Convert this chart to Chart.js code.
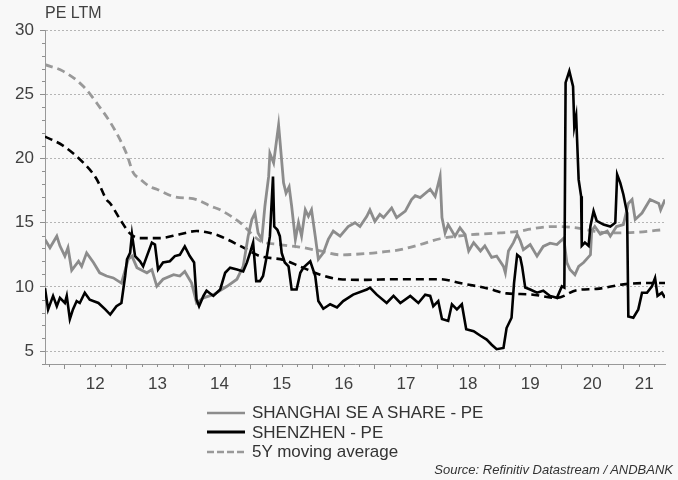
<!DOCTYPE html>
<html><head><meta charset="utf-8">
<script src="https://cdn.jsdelivr.net/npm/chart.js@4.4.0/dist/chart.umd.min.js"></script>
<style>
html,body{margin:0;padding:0;background:#f8f8f8;}
#wrap{position:relative;width:678px;height:480px;font-family:"Liberation Sans",Arial,sans-serif;color:#404040;overflow:hidden;}
#c{position:absolute;left:0;top:0;}
#title{position:absolute;left:45px;top:3px;font-size:16px;line-height:20px;white-space:nowrap;}
#legend{position:absolute;left:207px;top:403px;font-size:17px;color:#333;}
.row{height:19.5px;line-height:19.5px;display:flex;align-items:center;white-space:nowrap;}
.row svg{margin-right:7px;flex:none;}
#source{position:absolute;right:5px;top:462px;font-size:13px;line-height:16px;font-style:italic;color:#333;white-space:nowrap;}
</style></head>
<body>
<div id="wrap">
<canvas id="c" width="678" height="480"></canvas>
<div id="title">PE LTM</div>
<div id="legend">
 <div class="row"><svg width="38" height="12"><line x1="0" y1="6" x2="38" y2="6" stroke="#8c8c8c" stroke-width="2.5"/></svg>SHANGHAI SE A SHARE - PE</div>
 <div class="row"><svg width="38" height="12"><line x1="0" y1="6" x2="38" y2="6" stroke="#000" stroke-width="2.8"/></svg>SHENZHEN - PE</div>
 <div class="row"><svg width="38" height="12"><line x1="0" y1="6" x2="38" y2="6" stroke="#999" stroke-width="2.5" stroke-dasharray="7,3"/></svg>5Y moving average</div>
</div>
<div id="source">Source: Refinitiv Datastream / ANDBANK</div>
</div>
<script>
// ---- data (decimal years, PE values) ----
const shDates = [2011.69,2011.77,2011.88,2011.93,2012.01,2012.06,2012.12,2012.23,2012.28,2012.36,2012.47,2012.57,2012.68,2012.79,2012.92,2013.03,2013.09,2013.17,2013.33,2013.41,2013.49,2013.59,2013.76,2013.86,2013.94,2014.05,2014.13,2014.24,2014.40,2014.62,2014.78,2014.88,2014.96,2015.02,2015.07,2015.12,2015.18,2015.23,2015.29,2015.31,2015.37,2015.42,2015.45,2015.47,2015.53,2015.57,2015.62,2015.66,2015.72,2015.77,2015.82,2015.88,2015.93,2015.98,2016.04,2016.09,2016.17,2016.25,2016.33,2016.44,2016.57,2016.68,2016.76,2016.87,2016.92,2017.00,2017.08,2017.14,2017.27,2017.35,2017.49,2017.59,2017.65,2017.73,2017.89,2017.97,2018.05,2018.08,2018.13,2018.18,2018.29,2018.37,2018.45,2018.51,2018.59,2018.70,2018.77,2018.88,2018.96,2019.07,2019.10,2019.15,2019.23,2019.29,2019.34,2019.39,2019.50,2019.61,2019.71,2019.82,2019.93,2020.04,2020.09,2020.14,2020.22,2020.28,2020.36,2020.47,2020.49,2020.54,2020.63,2020.74,2020.79,2020.89,2021.00,2021.08,2021.14,2021.19,2021.30,2021.43,2021.57,2021.60,2021.67];
const shValues = [13.7,13.05,13.95,13.2,12.4,13.05,11.3,12.0,11.6,12.65,11.9,11.1,10.85,10.7,10.3,12.15,12.4,11.5,11.1,11.35,10.05,10.6,10.95,10.85,11.2,10.3,8.75,9.15,9.4,10.05,10.6,11.6,13.95,15.25,15.75,14.2,13.7,16.3,18.6,20.4,19.65,21.5,22.6,21.5,18.1,17.3,17.8,16.3,13.7,15.0,13.95,16.0,15.5,16.0,13.95,12.15,12.65,13.7,14.35,13.95,14.7,15.0,14.7,15.5,16.0,15.1,15.65,15.4,16.15,15.4,15.9,16.8,17.1,16.95,17.6,17.05,18.6,15.4,14.2,14.85,13.95,14.6,14.1,12.8,13.45,12.8,13.2,12.3,12.4,11.6,11.1,12.8,13.45,14.1,13.6,12.9,13.3,12.4,13.15,13.4,13.3,13.8,11.9,11.35,10.95,11.6,11.9,12.5,14.35,14.7,14.1,14.35,13.95,14.7,14.85,16.5,16.8,15.25,15.75,16.8,16.5,16.0,16.8];

const szDates = [2011.69,2011.74,2011.82,2011.88,2011.93,2012.01,2012.04,2012.09,2012.14,2012.20,2012.25,2012.33,2012.41,2012.55,2012.66,2012.74,2012.84,2012.92,2012.98,2013.01,2013.06,2013.09,2013.14,2013.22,2013.27,2013.33,2013.41,2013.46,2013.51,2013.59,2013.70,2013.78,2013.86,2013.94,2014.02,2014.09,2014.13,2014.17,2014.24,2014.29,2014.40,2014.51,2014.59,2014.67,2014.78,2014.88,2014.94,2014.99,2015.04,2015.09,2015.15,2015.20,2015.26,2015.31,2015.36,2015.38,2015.43,2015.47,2015.50,2015.55,2015.61,2015.66,2015.74,2015.80,2015.85,2015.96,2016.04,2016.09,2016.17,2016.28,2016.39,2016.49,2016.65,2016.87,2016.92,2017.03,2017.19,2017.30,2017.41,2017.57,2017.70,2017.81,2017.89,2017.94,2018.02,2018.08,2018.18,2018.24,2018.32,2018.40,2018.47,2018.59,2018.70,2018.80,2018.88,2018.96,2019.07,2019.12,2019.20,2019.24,2019.29,2019.34,2019.37,2019.42,2019.50,2019.61,2019.71,2019.82,2019.93,2020.01,2020.05,2020.07,2020.13,2020.19,2020.21,2020.24,2020.28,2020.32,2020.33,2020.38,2020.44,2020.47,2020.52,2020.57,2020.68,2020.79,2020.87,2020.90,2020.95,2021.00,2021.06,2021.08,2021.16,2021.24,2021.30,2021.38,2021.46,2021.51,2021.55,2021.62,2021.67];
const szValues = [9.9,8.25,9.3,8.5,9.15,8.75,9.3,7.5,8.25,8.9,8.75,9.55,9.0,8.75,8.25,7.85,8.5,8.75,10.85,12.15,12.65,14.1,12.4,12.0,11.6,12.4,13.45,13.3,11.35,11.9,12.0,12.4,12.5,13.15,12.4,11.9,9.0,8.5,9.3,9.7,9.3,9.8,11.1,11.5,11.35,11.2,11.9,12.65,13.45,10.45,10.45,10.85,12.4,13.95,18.6,14.7,14.45,13.95,12.65,11.9,11.6,9.8,9.8,11.1,11.5,12.0,10.85,8.9,8.3,8.65,8.4,8.9,9.4,9.8,9.95,9.4,8.75,9.3,8.75,9.3,8.75,9.4,9.3,8.5,8.9,7.5,7.35,8.65,8.25,8.65,6.7,6.55,6.2,5.9,5.5,5.15,5.25,6.8,7.6,10.3,12.5,12.3,11.6,9.95,9.8,9.55,9.7,9.3,9.15,10.05,9.95,25.9,26.8,25.6,22.5,23.3,18.35,17.05,13.2,13.45,13.2,14.75,15.9,15.15,14.85,14.7,15.0,18.75,18.1,17.2,15.75,7.7,7.6,8.25,9.55,9.55,10.05,10.7,9.3,9.55,9.15];

const shMaDates = [2011.69,2011.98,2012.31,2012.57,2012.78,2013.00,2013.11,2013.22,2013.38,2013.49,2013.75,2014.13,2014.35,2014.51,2014.83,2015.15,2015.47,2015.79,2016.12,2016.44,2016.87,2017.08,2017.41,2017.73,2018.05,2018.32,2018.64,2019.02,2019.34,2019.50,2019.87,2020.25,2020.51,2020.79,2021.22,2021.67];
const shMaValues = [27.3,26.8,25.6,24.0,22.5,20.4,18.9,18.4,17.8,17.6,17.05,16.8,16.3,16.0,15.0,13.6,13.3,13.1,12.8,12.5,12.6,12.7,12.9,13.3,13.75,13.95,14.1,14.2,14.35,14.5,14.7,14.6,14.35,14.2,14.26,14.47];

const szMaDates = [2011.69,2011.98,2012.31,2012.52,2012.68,2012.74,2012.90,2013.06,2013.22,2013.54,2013.86,2014.13,2014.35,2014.51,2014.83,2015.15,2015.53,2015.79,2016.12,2016.44,2016.87,2017.29,2018.05,2018.37,2018.80,2019.12,2019.50,2019.93,2020.25,2020.57,2021.00,2021.32,2021.67];
const szMaValues = [21.7,21.0,19.65,18.4,16.8,16.5,15.25,14.15,13.8,13.8,14.1,14.35,14.2,13.95,13.2,12.4,12.1,11.6,10.95,10.6,10.55,10.6,10.6,10.3,9.9,9.5,9.42,9.15,9.75,9.85,10.2,10.3,10.3];

const yearTicks = [2012,2013,2014,2015,2016,2017,2018,2019,2020,2021];
const yearLabels = ['12','13','14','15','16','17','18','19','20','21'];
const yTickValues = [5,10,15,20,25,30];
const yMin = 4, yMax = 30;

// ---- chart ----
const FONT = '"Liberation Sans", Arial, sans-serif';
const xMin = shDates[0], xMax = shDates[shDates.length - 1];
const toXY = (d, v) => d.map((x, i) => ({x: x, y: v[i]}));

const minorTicks = {
  id: 'minorTicks',
  afterDraw(chart) {
    const {ctx, scales: {x, y}} = chart;
    ctx.save();
    ctx.strokeStyle = '#8f8f8f';
    ctx.lineWidth = 1;
    ctx.beginPath();
    for (let q = Math.ceil(x.min * 4) / 4; q <= x.max; q += 0.25) {
      if (Math.abs(q - Math.round(q)) < 1e-6) continue;
      const px = Math.round(x.getPixelForValue(q)) + 0.5;
      ctx.moveTo(px, x.top); ctx.lineTo(px, x.top + 3);
    }
    for (let v = Math.ceil(y.min); v <= y.max; v++) {
      if (v % 5 === 0) continue;
      const py = Math.round(y.getPixelForValue(v)) + 0.5;
      ctx.moveTo(y.right - 3, py); ctx.lineTo(y.right, py);
    }
    ctx.stroke();
    ctx.restore();
  }
};

new Chart(document.getElementById('c'), {
  type: 'line',
  data: {
    datasets: [
      {label: 'SHENZHEN - PE', data: toXY(szDates, szValues), borderColor: '#000', borderWidth: 2.6, pointRadius: 0, tension: 0},
      {label: 'SHANGHAI SE A SHARE - PE', data: toXY(shDates, shValues), borderColor: '#8c8c8c', borderWidth: 2.8, pointRadius: 0, tension: 0},
      {label: 'Shenzhen 5Y MA', data: toXY(szMaDates, szMaValues), borderColor: '#000', borderWidth: 2.6, borderDash: [8, 5], pointRadius: 0, cubicInterpolationMode: 'monotone'},
      {label: '5Y moving average', data: toXY(shMaDates, shMaValues), borderColor: '#999', borderWidth: 2.8, borderDash: [8, 5], pointRadius: 0, cubicInterpolationMode: 'monotone'}
    ]
  },
  options: {
    responsive: false,
    animation: false,
    layout: {padding: {left: 0, right: 13, top: 30, bottom: 0}},
    plugins: {legend: {display: false}, tooltip: {enabled: false}, title: {display: false}},
    scales: {
      x: {
        type: 'linear', min: xMin, max: xMax,
        afterFit(s) { s.height = 116; },
        afterBuildTicks(s) {
          const t = [];
          yearTicks.forEach((yr, i) => {
            t.push({value: yr});
            const end = Math.min(yr + 1, xMax);
            t.push({value: (yr + end) / 2, lab: yearLabels[i]});
          });
          s.ticks = t;
        },
        grid: {drawOnChartArea: false, tickLength: 5, tickColor: (ctx) => (ctx.tick && ctx.tick.lab) ? 'rgba(0,0,0,0)' : '#8f8f8f'},
        border: {color: '#999', width: 1},
        ticks: {autoSkip: false, maxRotation: 0, padding: 5, color: '#404040', font: {family: FONT, size: 17},
          callback: (v, i, ticks) => (ticks[i] && ticks[i].lab) ? ticks[i].lab : ''}
      },
      y: {
        min: yMin, max: yMax,
        afterFit(s) { s.width = 45; },
        afterBuildTicks(s) { s.ticks = yTickValues.map(v => ({value: v})); },
        grid: {color: '#b5b5b5', lineWidth: 1, tickLength: 5, tickColor: '#8f8f8f'},
        border: {color: '#999', width: 1, dash: [2, 2]},
        ticks: {padding: 6, color: '#404040', font: {family: FONT, size: 17}}
      }
    }
  },
  plugins: [minorTicks]
});
</script>
</body></html>
